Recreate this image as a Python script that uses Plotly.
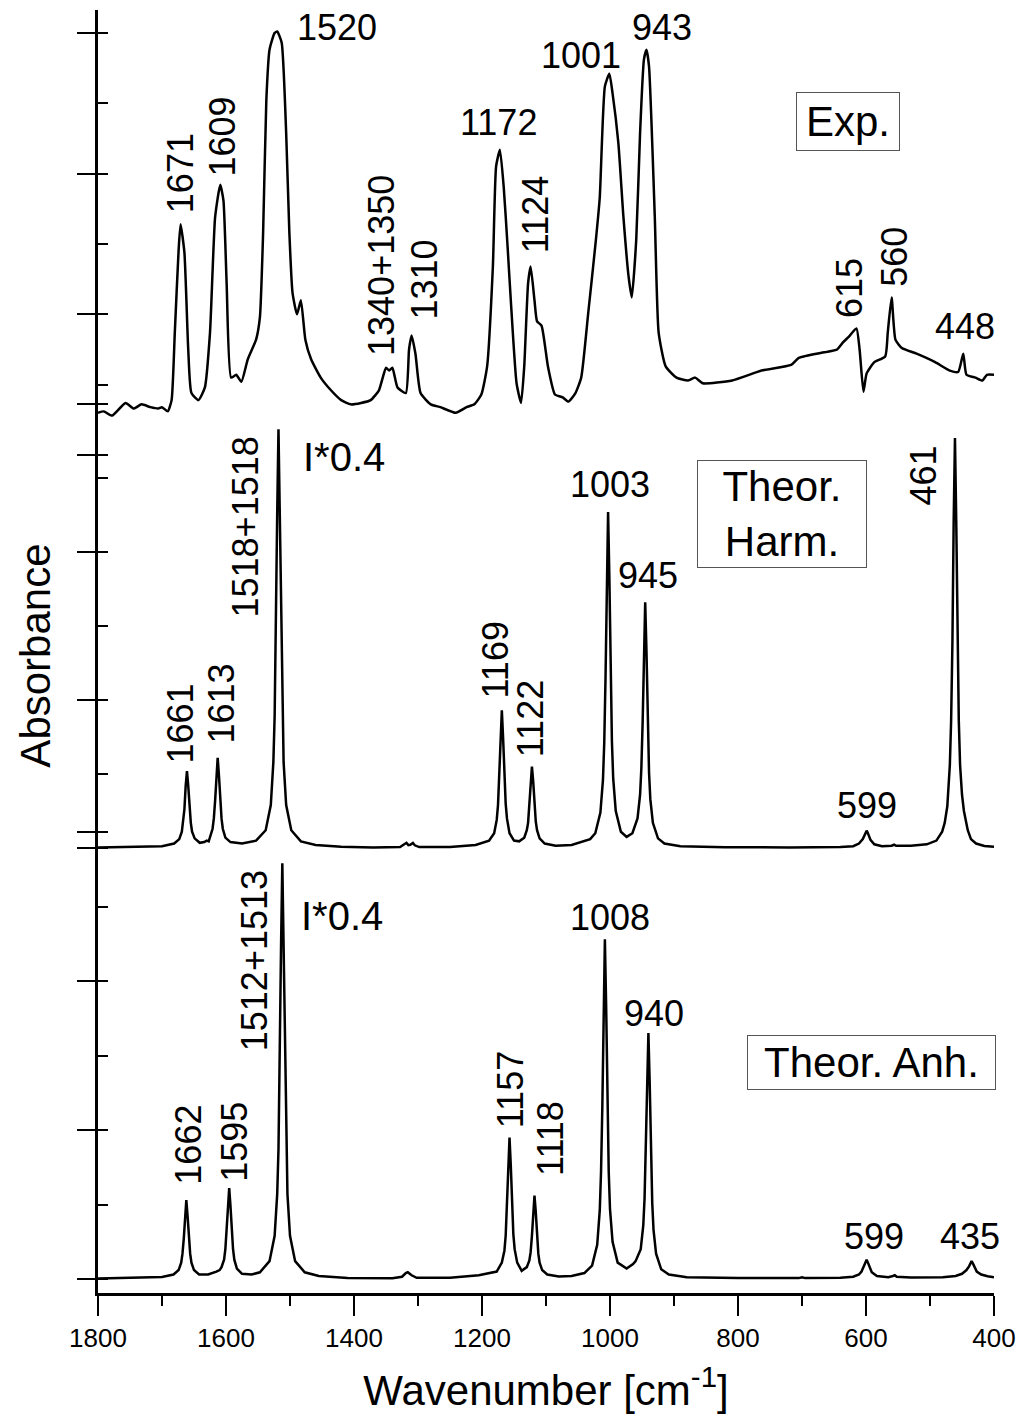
import plotly.graph_objects as go

FONT = "Liberation Sans, Arial, sans-serif"

# ---- Experimental IR spectrum (absorbance) ----
exp_wn = [1800, 1791, 1778, 1757, 1744, 1732, 1718, 1706, 1700, 1691, 1685, 1680, 1674, 1671, 1665,
          1659, 1654, 1643, 1633, 1625, 1617, 1609, 1604, 1599, 1592, 1584, 1576, 1566, 1553, 1547,
          1542, 1537, 1532, 1524, 1520, 1513, 1506, 1501, 1496, 1489, 1483, 1476, 1467, 1452, 1436,
          1420, 1405, 1389, 1374, 1361, 1350, 1345, 1340, 1332, 1319, 1314, 1310, 1304, 1296, 1280,
          1265, 1241, 1224, 1212, 1201, 1192, 1183, 1178, 1172, 1166, 1160, 1155, 1146, 1139, 1134,
          1128, 1124, 1118, 1114, 1107, 1097, 1086, 1074, 1065, 1054, 1045, 1034, 1022, 1016, 1008,
          1001, 996, 987, 979, 971, 966, 959, 953, 947, 943, 939, 930, 924, 913, 896,
          878, 867, 855, 809, 763, 717, 705, 665, 645, 636, 627, 615, 610, 604, 599,
          587, 570, 566, 560, 554, 544, 521, 492, 469, 456, 448, 443, 429, 418, 411, 400]
exp_abs = [0.030, 0.031, 0.028, 0.037, 0.033, 0.036, 0.034, 0.033, 0.034, 0.031, 0.039, 0.087, 0.146, 0.164, 0.144,
           0.075, 0.044, 0.039, 0.048, 0.087, 0.169, 0.192, 0.181, 0.122, 0.055, 0.057, 0.052, 0.068, 0.082, 0.098,
           0.158, 0.252, 0.288, 0.300, 0.301, 0.293, 0.229, 0.158, 0.115, 0.100, 0.110, 0.082, 0.068, 0.055, 0.046,
           0.039, 0.036, 0.037, 0.039, 0.046, 0.062, 0.060, 0.062, 0.048, 0.044, 0.075, 0.085, 0.072, 0.044, 0.036,
           0.034, 0.030, 0.034, 0.036, 0.043, 0.063, 0.134, 0.205, 0.217, 0.190, 0.148, 0.110, 0.051, 0.037, 0.063,
           0.122, 0.134, 0.110, 0.095, 0.092, 0.063, 0.043, 0.041, 0.038, 0.044, 0.055, 0.101, 0.153, 0.183, 0.262,
           0.271, 0.257, 0.222, 0.169, 0.127, 0.112, 0.153, 0.229, 0.281, 0.288, 0.276, 0.169, 0.087, 0.063, 0.055,
           0.053, 0.055, 0.051, 0.053, 0.060, 0.064, 0.069, 0.073, 0.075, 0.080, 0.084, 0.090, 0.075, 0.045, 0.058,
           0.066, 0.070, 0.087, 0.112, 0.082, 0.076, 0.072, 0.066, 0.060, 0.059, 0.072, 0.057, 0.055, 0.053, 0.057, 0.057]

# ---- Theoretical harmonic spectrum (arb. units) ----
harm_wn = [1800, 1740, 1700, 1681, 1673, 1669, 1667, 1665, 1663, 1661, 1659, 1657, 1655, 1653, 1649,
           1641, 1634, 1630, 1627, 1621, 1619, 1617, 1615, 1613, 1611, 1609, 1607, 1605, 1601, 1593,
           1575, 1553, 1538, 1530, 1526, 1524, 1522, 1520, 1518, 1516, 1514, 1512, 1510, 1506, 1498,
           1483, 1460, 1420, 1370, 1328, 1322, 1318, 1315, 1312, 1308, 1305, 1298, 1250, 1210, 1189,
           1181, 1177, 1175, 1173, 1171, 1169, 1167, 1165, 1163, 1161, 1157, 1150, 1142, 1134, 1130,
           1128, 1126, 1124, 1122, 1120, 1118, 1116, 1114, 1110, 1102, 1085, 1060, 1040, 1031, 1023,
           1015, 1011, 1009, 1007, 1005, 1003, 1001, 999, 997, 995, 991, 983, 974, 965, 957,
           953, 951, 949, 947, 945, 943, 941, 939, 937, 933, 925, 915, 890, 820, 720,
           640, 620, 611, 605, 603, 601, 599, 597, 595, 593, 587, 575, 560, 556, 553,
           530, 505, 490, 481, 477, 473, 469, 467, 465, 463, 461, 459, 457, 455, 453,
           450, 447, 444, 441, 436, 428, 415, 400]
harm_int = [0.003, 0.006, 0.012, 0.03, 0.06, 0.11, 0.17, 0.26, 0.42, 0.52, 0.42, 0.26, 0.17, 0.11, 0.065,
            0.035, 0.04, 0.05, 0.045, 0.13, 0.20, 0.32, 0.49, 0.61, 0.49, 0.32, 0.20, 0.13, 0.07, 0.04,
            0.03, 0.05, 0.12, 0.29, 0.58, 0.89, 1.43, 2.26, 2.83, 2.26, 1.43, 0.89, 0.58, 0.29, 0.12,
            0.045, 0.02, 0.008, 0.004, 0.006, 0.02, 0.035, 0.02, 0.022, 0.034, 0.018, 0.006, 0.006, 0.02, 0.05,
            0.10, 0.19, 0.29, 0.47, 0.74, 0.93, 0.74, 0.47, 0.30, 0.20, 0.10, 0.05, 0.045, 0.07, 0.12,
            0.17, 0.29, 0.45, 0.55, 0.45, 0.29, 0.18, 0.12, 0.065, 0.03, 0.015, 0.02, 0.045, 0.06, 0.10,
            0.24, 0.46, 0.71, 1.15, 1.83, 2.27, 1.83, 1.16, 0.72, 0.47, 0.25, 0.11, 0.075, 0.10, 0.20,
            0.36, 0.54, 0.85, 1.34, 1.66, 1.33, 0.83, 0.51, 0.33, 0.17, 0.065, 0.03, 0.012, 0.005, 0.004,
            0.006, 0.012, 0.03, 0.06, 0.08, 0.10, 0.117, 0.10, 0.075, 0.055, 0.025, 0.012, 0.015, 0.022, 0.015,
            0.016, 0.025, 0.05, 0.11, 0.17, 0.28, 0.56, 0.86, 1.38, 2.21, 2.77, 2.21, 1.38, 0.86, 0.56,
            0.36, 0.25, 0.19, 0.12, 0.06, 0.03, 0.013, 0.008]

# ---- Theoretical anharmonic spectrum (arb. units) ----
anh_wn = [1800, 1740, 1700, 1682, 1674, 1670, 1668, 1666, 1664, 1662, 1660, 1658, 1656, 1654, 1650,
          1642, 1628, 1615, 1610, 1607, 1603, 1601, 1599, 1597, 1595, 1593, 1591, 1589, 1587, 1583,
          1575, 1560, 1547, 1532, 1524, 1520, 1518, 1516, 1514, 1512, 1510, 1508, 1506, 1504, 1500,
          1492, 1477, 1455, 1410, 1340, 1325, 1319, 1316, 1313, 1310, 1302, 1250, 1205, 1177, 1169,
          1165, 1163, 1161, 1159, 1157, 1155, 1153, 1151, 1149, 1145, 1138, 1130, 1126, 1124, 1122,
          1120, 1118, 1116, 1114, 1112, 1110, 1106, 1098, 1080, 1060, 1040, 1028, 1020, 1016, 1014,
          1012, 1010, 1008, 1006, 1004, 1002, 1000, 996, 988, 974, 964, 960, 952, 948, 946,
          944, 942, 940, 938, 936, 934, 932, 928, 920, 908, 880, 800, 705, 700, 695,
          640, 620, 611, 607, 603, 601, 599, 597, 595, 591, 583, 565, 558, 555, 552,
          530, 480, 460, 450, 443, 439, 437, 435, 433, 431, 427, 420, 410, 400]
anh_int = [0.003, 0.006, 0.013, 0.03, 0.06, 0.11, 0.17, 0.27, 0.42, 0.53, 0.42, 0.27, 0.17, 0.11, 0.06,
           0.03, 0.03, 0.05, 0.06, 0.08, 0.13, 0.20, 0.32, 0.49, 0.61, 0.49, 0.32, 0.20, 0.13, 0.07,
           0.035, 0.03, 0.045, 0.12, 0.29, 0.57, 0.87, 1.40, 2.23, 2.79, 2.23, 1.40, 0.87, 0.57, 0.29,
           0.12, 0.045, 0.02, 0.007, 0.005, 0.015, 0.04, 0.045, 0.035, 0.025, 0.008, 0.008, 0.025, 0.05, 0.11,
           0.19, 0.29, 0.48, 0.76, 0.95, 0.76, 0.48, 0.30, 0.20, 0.11, 0.055, 0.08, 0.125, 0.18, 0.29,
           0.46, 0.56, 0.45, 0.28, 0.17, 0.11, 0.06, 0.03, 0.017, 0.02, 0.04, 0.09, 0.23, 0.46, 0.72,
           1.15, 1.83, 2.28, 1.83, 1.15, 0.72, 0.47, 0.25, 0.11, 0.07, 0.10, 0.12, 0.20, 0.36, 0.54,
           0.85, 1.33, 1.65, 1.32, 0.83, 0.51, 0.33, 0.17, 0.065, 0.03, 0.012, 0.006, 0.006, 0.012, 0.006,
           0.008, 0.015, 0.03, 0.05, 0.085, 0.11, 0.13, 0.11, 0.085, 0.045, 0.02, 0.012, 0.02, 0.025, 0.015,
           0.01, 0.012, 0.02, 0.035, 0.06, 0.085, 0.105, 0.12, 0.105, 0.085, 0.05, 0.03, 0.018, 0.012]

# ---- Peak labels: (text, wavenumber, height, angle) ----
exp_labels = [("1671", 1671, 0.200, -90), ("1609", 1607, 0.226, -90), ("1520", 1426, 0.304, 0),
              ("1340+1350", 1358, 0.135, -90), ("1310", 1290, 0.125, -90), ("1172", 1175, 0.236, 0),
              ("1124", 1116, 0.171, -90), ("1001", 1046, 0.284, 0), ("943", 918, 0.304, 0),
              ("615", 626, 0.119, -90), ("560", 556, 0.141, -90), ("448", 445, 0.091, 0)]
harm_labels = [("1661", 1671, 0.838, -90), ("1613", 1607, 0.973, -90), ("1518+1518", 1568, 2.169, -90),
               ("I*0.4", 1416, 2.642, 0), ("1169", 1179, 1.270, -90), ("1122", 1123, 0.872, -90),
               ("1003", 1000, 2.453, 0), ("945", 940, 1.838, 0), ("599", 599, 0.290, 0),
               ("461", 510, 2.514, -90)]
anh_labels = [("1662", 1660, 0.899, -90), ("1595", 1588, 0.919, -90), ("1512+1513", 1556, 2.134, -90),
              ("I*0.4", 1419, 2.436, 0), ("1157", 1156, 1.268, -90), ("1118", 1094, 0.946, -90),
              ("1008", 1000, 2.423, 0), ("940", 932, 1.785, 0), ("599", 588, 0.282, 0),
              ("435", 437, 0.282, 0)]

# ---- Panel captions: (text, wavenumber, height, box width, box height, axis) ----
panel_captions = [("Exp.", 628, 0.237, 102, 57, "y"),
                  ("Theor.<br>Harm.", 731, 2.257, 168, 106, "y2"),
                  ("Theor. Anh.", 592, 1.45, 247, 53, "y3")]

LINE = dict(color="black", width=2.5)

fig = go.Figure()
fig.add_trace(go.Scatter(x=exp_wn, y=exp_abs, yaxis="y", mode="lines",
                         line=dict(LINE, shape="spline", smoothing=0.5)))
fig.add_trace(go.Scatter(x=harm_wn, y=harm_int, yaxis="y2", mode="lines", line=LINE))
fig.add_trace(go.Scatter(x=anh_wn, y=anh_int, yaxis="y3", mode="lines", line=LINE))

annotations = []
for labels, yref in ((exp_labels, "y"), (harm_labels, "y2"), (anh_labels, "y3")):
    for text, wn, h, ang in labels:
        annotations.append(dict(text=text, x=wn, y=h, xref="x", yref=yref, showarrow=False,
                                textangle=ang, xanchor="center", yanchor="middle",
                                font=dict(family=FONT, size=(40 if text.startswith("I*") else 36),
                                          color="black")))
for text, wn, h, w, bh, yref in panel_captions:
    annotations.append(dict(text=text, x=wn, y=h, xref="x", yref=yref, showarrow=False,
                            xanchor="center", yanchor="middle", width=w, height=bh, align="center",
                            bordercolor="#555555", borderwidth=1, borderpad=0,
                            font=dict(family=FONT, size=42, color="black")))
annotations.append(dict(text="Absorbance", x=-0.07, y=0.497, xref="paper", yref="paper",
                        showarrow=False, textangle=-90, xanchor="center", yanchor="middle",
                        font=dict(family=FONT, size=42, color="black")))

yax_common = dict(anchor="x", showline=True, linewidth=2.5, linecolor="black",
                  ticks="outside", ticklen=18, tickwidth=2, tickcolor="black", tick0=0,
                  showticklabels=False, showgrid=False, zeroline=False, fixedrange=True)

fig.update_layout(
    width=1026, height=1427,
    margin=dict(l=98, r=28, t=10, b=134),
    paper_bgcolor="white", plot_bgcolor="rgba(0,0,0,0)",
    showlegend=False,
    font=dict(family=FONT, color="black"),
    xaxis=dict(range=[1800, 400], anchor="y3", showline=True, linewidth=2.5, linecolor="black",
               ticks="outside", ticklen=20, tickwidth=2, tickcolor="black", tick0=0, dtick=200,
               minor=dict(ticks="outside", ticklen=10, tickwidth=2, tickcolor="black", dtick=100),
               tickfont=dict(family=FONT, size=26, color="black"),
               showgrid=False, zeroline=False,
               title=dict(text="Wavenumber [cm<sup>-1</sup>]", standoff=24,
                          font=dict(family=FONT, size=42, color="black"))),
    yaxis=dict(yax_common, domain=[0.64926, 1.0], range=[-0.003554, 0.31628], dtick=0.1,
               minor=dict(ticks="inside", ticklen=10, tickwidth=2, tickcolor="black", dtick=0.05)),
    yaxis2=dict(yax_common, domain=[0.34139, 0.69368], range=[-0.0473, 3.0068], dtick=1,
                minor=dict(ticks="inside", ticklen=10, tickwidth=2, tickcolor="black", dtick=0.5)),
    yaxis3=dict(yax_common, domain=[0.0, 0.36087], range=[-0.09396, 3.01342], dtick=1,
                minor=dict(ticks="inside", ticklen=10, tickwidth=2, tickcolor="black", dtick=0.5)),
    annotations=annotations,
)

fig.write_html("out.html")
